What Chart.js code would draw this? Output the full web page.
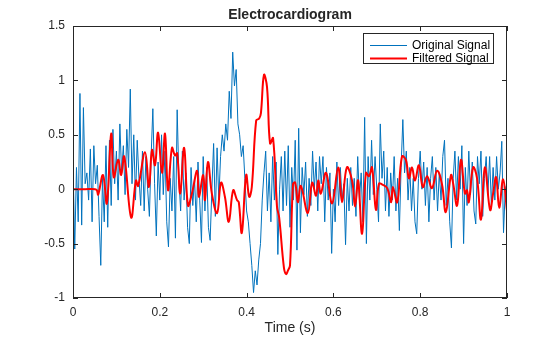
<!DOCTYPE html>
<html lang="en">
<head>
  <meta charset="UTF-8">
  <title>Electrocardiogram</title>
  <script src="https://cdn.jsdelivr.net/npm/chart.js"></script>
  <style>
    html, body { margin: 0; padding: 0; background: #fff; }
    #wrap { width: 560px; height: 337px; }
  </style>
</head>
<body>
  <div id="wrap"><canvas id="ecg" width="560" height="337"></canvas></div>

  <script>
    // sample rate of the raw recording (Hz)
    const fs = 250;

    // raw ECG samples, one per 1/fs seconds
    const originalSignal = [
      0.25, -0.55, 0.2, -0.3, 0.88, -0.33, 0.75, 0.05, 0.15, -0.1,
      0.37, -0.3, 0.4, 0.05, 0.22, -0.25, -0.7, 0.1, -0.3, 0.4,
      -0.35, 0.45, -0.15, 0.55, 0.05, 0.35, -0.1, 0.6, 0.15, 0.4,
      -0.05, 0.55, 0.2, 0.92, 0.05, 0.5, -0.1, 0.45, 0.1, -0.15,
      0.35, -0.2, 0.3, 0.0, -0.25, 0.3, 0.74, 0.05, -0.43, 0.25,
      -0.1, 0.5, -0.05, 0.35, -0.3, -0.53, 0.1, -0.2, 0.3, -0.45,
      0.73, 0.1, -0.2, 0.35, -0.1, 0.15, -0.35, -0.5, 0.2, -0.15,
      0.1, -0.3, 0.25, -0.1, -0.49, 0.3, -0.2, 0.2, -0.35, -0.47,
      0.0, 0.42, -0.25, 0.38, -0.1, 0.3, 0.5, 0.35, 0.6, 0.45,
      0.9, 0.65, 1.26, 0.95, 1.1, 0.6, 0.5, 0.3, 0.4, 0.1,
      -0.2, -0.3, -0.5, -0.7, -0.95, -0.75, -0.88, -0.65, -0.5, -0.1,
      0.15, 0.35, -0.2, 0.15, -0.3, 0.3, -0.1, 0.25, -0.6, 0.0,
      0.3, -0.2, 0.35, -0.15, 0.4, -0.35, 0.2, -0.1, 0.45, -0.56,
      0.56, -0.4, 0.2, -0.05, 0.25, -0.25, 0.1, -0.15, 0.35, 0.0,
      0.25, -0.2, 0.3, 0.05, 0.3, -0.3, 0.2, -0.1, 0.15, -0.59,
      0.0, -0.3, 0.25, -0.15, 0.2, -0.1, 0.05, -0.51, 0.1, -0.2,
      0.2, -0.15, 0.1, -0.25, 0.3, -0.1, 0.15, -0.3, 0.66, -0.5,
      0.3, -0.1, 0.45, -0.05, 0.3, 0.0, -0.3, 0.6, 0.1, 0.35,
      -0.2, 0.2, -0.25, 0.15, -0.1, 0.3, -0.2, 0.1, -0.38, 0.2,
      0.64, 0.15, 0.35, -0.1, 0.2, -0.2, 0.1, -0.3, -0.41, 0.1,
      0.35, 0.0, 0.25, -0.15, 0.2, -0.3, 0.1, 0.3, -0.1, 0.2,
      -0.2, 0.15, -0.1, 0.3, 0.45, -0.15, 0.1, -0.3, -0.54, 0.1,
      0.35, -0.1, 0.3, 0.0, 0.4, -0.5, 0.2, -0.15, 0.35, -0.05,
      0.25, -0.2, -0.32, 0.3, 0.05, 0.35, -0.25, 0.1, 0.3, -0.05,
      0.3, -0.15, 0.2, -0.1, 0.3, 0.0, 0.15, 0.44, -0.4, 0.0,
      0.05
    ];

    // filtered signal, read at its turning points
    const filteredTime = [
      0, 0.028, 0.051, 0.055, 0.058, 0.069, 0.078, 0.088, 0.094, 0.104,
      0.111, 0.118, 0.134, 0.145, 0.150, 0.166, 0.175, 0.182, 0.189, 0.196,
      0.205, 0.212, 0.219, 0.228, 0.235, 0.240, 0.247, 0.256, 0.265, 0.274,
      0.286, 0.290, 0.300, 0.304, 0.311, 0.320, 0.332, 0.341, 0.350, 0.359,
      0.369, 0.378, 0.382, 0.389, 0.399, 0.406, 0.412, 0.422, 0.429, 0.433,
      0.440, 0.447, 0.454, 0.461, 0.470, 0.475, 0.486, 0.491, 0.495, 0.500,
      0.507, 0.512, 0.518, 0.525, 0.541, 0.551, 0.560, 0.565, 0.571, 0.583,
      0.597, 0.611, 0.620, 0.631, 0.643, 0.650, 0.657, 0.666, 0.675, 0.682,
      0.689, 0.698, 0.705, 0.714, 0.724, 0.733, 0.737, 0.747, 0.758, 0.767,
      0.774, 0.781, 0.788, 0.797, 0.806, 0.816, 0.827, 0.839, 0.850, 0.859,
      0.871, 0.876, 0.885, 0.894, 0.903, 0.908, 0.912, 0.922, 0.931, 0.940,
      0.949, 0.961, 0.968, 0.975, 0.982, 0.991, 1.0
    ];
    const filteredSignal = [
      0, 0, 0, -0.01, -0.05, 0.13, -0.13, 0.51, 0.11, 0.27,
      0.13, 0.30, -0.26, 0.08, 0.03, 0.34, 0.02, 0.36, 0.22, 0.52,
      0.15, 0.51, -0.01, 0.38, 0.31, 0.33, -0.04, 0.38, -0.15, -0.04,
      0.17, -0.07, 0.13, -0.10, 0.25, -0.04, -0.22, 0.06, -0.07, -0.30,
      -0.01, -0.10, -0.12, -0.40, 0.13, -0.07, 0.02, 0.63, 0.65, 0.70,
      1.05, 0.94, 0.42, 0.47, -0.16, -0.26, -0.72, -0.78, -0.75, -0.70,
      0.05, 0.06, -0.12, 0.03, -0.22, 0.06, -0.06, 0.08, -0.04, 0.15,
      -0.13, 0.20, -0.12, 0.20, 0.08, -0.16, 0.08, -0.41, 0.15, 0.12,
      0.20, -0.19, 0.05, 0.04, 0.01, -0.12, 0.02, -0.12, 0.30, 0.27,
      0.10, 0.20, 0.08, 0.22, 0.02, 0.12, 0.01, 0.17, 0.05, -0.21,
      0.13, 0.05, -0.15, 0.27, -0.04, -0.01, -0.12, 0.20, 0.10, -0.28,
      0.20, -0.19, -0.04, 0.11, -0.17, 0.09, -0.20
    ];

    // axis ticks
    const xTicks = [0, 0.2, 0.4, 0.6, 0.8, 1];
    const yTicks = [-1, -0.5, 0, 0.5, 1, 1.5];

    const ink = '#262626';
    const blue = '#0072BD';
    const red = '#FF0000';
    const fontFamily = '"Liberation Sans", Arial, sans-serif';

    // MATLAB style box, inward ticks, title, x label and legend
    const matlabAxes = {
      id: 'matlabAxes',
      afterDraw(chart) {
        const c = chart.ctx;
        const a = chart.chartArea;
        const xs = chart.scales.x, ys = chart.scales.y;
        c.save();
        c.strokeStyle = ink;
        c.lineWidth = 1;
        c.strokeRect(Math.round(a.left) + 0.5, Math.round(a.top) + 0.5,
                     Math.round(a.right - a.left) - 1, Math.round(a.bottom - a.top) - 1);
        c.beginPath();
        xTicks.forEach(t => {
          const px = Math.round(xs.getPixelForValue(t)) + 0.5;
          c.moveTo(px, a.bottom); c.lineTo(px, a.bottom - 5);
          c.moveTo(px, a.top); c.lineTo(px, a.top + 5);
        });
        yTicks.forEach(t => {
          const py = Math.round(ys.getPixelForValue(t)) + 0.5;
          c.moveTo(a.left, py); c.lineTo(a.left + 5, py);
          c.moveTo(a.right, py); c.lineTo(a.right - 5, py);
        });
        c.stroke();

        // title and x label
        c.fillStyle = ink;
        c.textAlign = 'center';
        c.textBaseline = 'middle';
        c.font = 'bold 14px ' + fontFamily;
        c.fillText('Electrocardiogram', (a.left + a.right) / 2, 15);
        c.font = '14px ' + fontFamily;
        c.fillText('Time (s)', (a.left + a.right) / 2, 328);

        // legend box
        const lx = 363, ly = 33, lw = 130, lh = 30;
        c.fillStyle = '#fff';
        c.fillRect(lx, ly, lw, lh);
        c.strokeStyle = ink;
        c.strokeRect(lx + 0.5, ly + 0.5, lw, lh);
        c.textAlign = 'left';
        c.font = '12px ' + fontFamily;
        chart.data.datasets.forEach((ds, i) => {
          const y = ly + 12 + i * 13;
          c.strokeStyle = ds.borderColor;
          c.lineWidth = ds.borderWidth;
          c.beginPath();
          c.moveTo(lx + 7, y + 0.5); c.lineTo(lx + 44, y + 0.5);
          c.stroke();
          c.fillStyle = '#000';
          c.fillText(ds.label, lx + 49, y + 1);
        });
        c.restore();
      }
    };

    const ctx = document.getElementById('ecg').getContext('2d');
    new Chart(ctx, {
      type: 'line',
      data: {
        datasets: [
          {
            label: 'Original Signal',
            data: originalSignal.map((v, i) => ({ x: i / fs, y: v })),
            borderColor: blue,
            borderWidth: 1,
            pointRadius: 0,
            tension: 0,
            order: 1
          },
          {
            label: 'Filtered Signal',
            data: filteredSignal.map((v, i) => ({ x: filteredTime[i], y: v })),
            borderColor: red,
            borderWidth: 2,
            pointRadius: 0,
            tension: 0.4,
            order: 0
          }
        ]
      },
      options: {
        responsive: false,
        animation: false,
        layout: { padding: { top: 26, right: 53, left: 0, bottom: 0 } },
        plugins: {
          legend: { display: false },
          title: { display: false },
          tooltip: { enabled: false }
        },
        scales: {
          x: {
            type: 'linear',
            min: 0,
            max: 1,
            afterFit: s => { s.height = 39; },
            afterBuildTicks: s => { s.ticks = xTicks.map(v => ({ value: v })); },
            ticks: {
              color: ink,
              padding: 7,
              maxRotation: 0,
              callback: v => String(v),
              font: { family: fontFamily, size: 12 }
            },
            grid: { display: false, drawTicks: false },
            border: { display: false }
          },
          y: {
            min: -1,
            max: 1.5,
            afterFit: s => { s.width = 73; },
            afterBuildTicks: s => { s.ticks = yTicks.map(v => ({ value: v })); },
            ticks: {
              color: ink,
              padding: 8,
              callback: v => String(v),
              font: { family: fontFamily, size: 12 }
            },
            grid: { display: false, drawTicks: false },
            border: { display: false }
          }
        }
      },
      plugins: [matlabAxes]
    });
  </script>
</body>
</html>
